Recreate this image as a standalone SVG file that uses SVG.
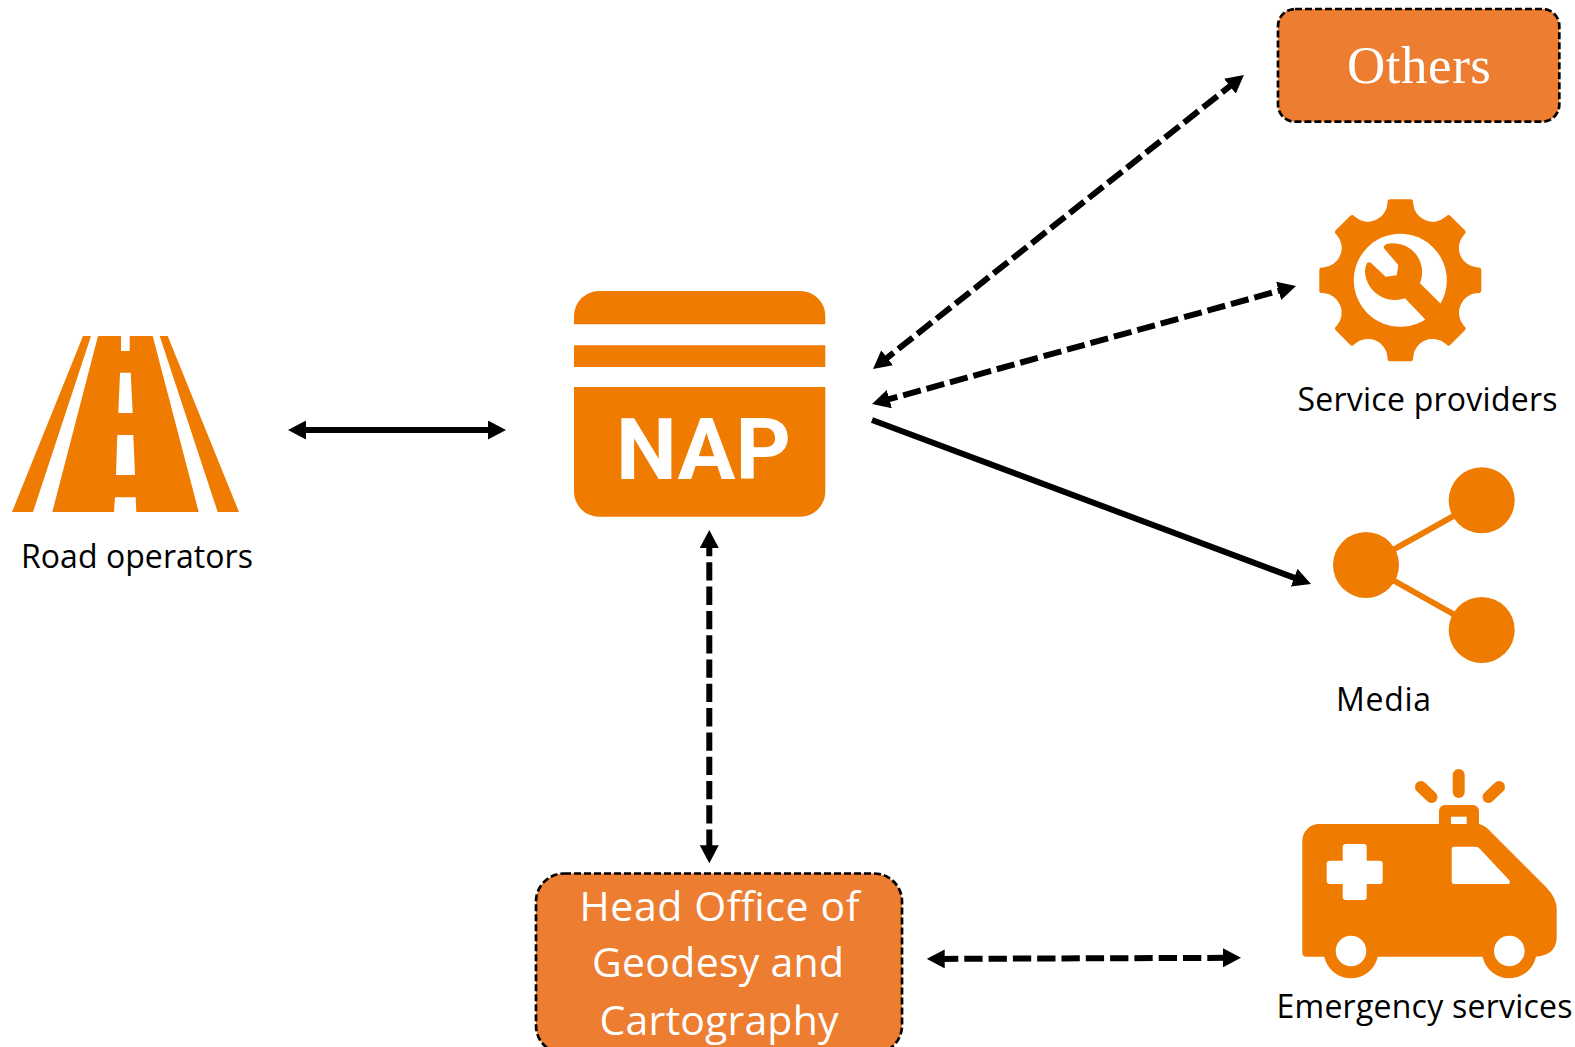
<svg xmlns="http://www.w3.org/2000/svg" xmlns:xlink="http://www.w3.org/1999/xlink" width="1575" height="1047" viewBox="0 0 1575 1047">
<style>
.ic{fill:#EF7B00}
.hole{fill:#fff}
.box{fill:#ED7D31;stroke:#000;stroke-width:2.7;stroke-dasharray:7 3}
.lbl{font-family:"Open Sans","Noto Sans",sans-serif;font-size:32px;fill:#000}
.wt{font-family:"Open Sans","Noto Sans",sans-serif;font-size:41px;fill:#fff}
.cn{fill:none;stroke:#000;stroke-width:6}
.dash{stroke-dasharray:18.3 6;stroke-dashoffset:6}
</style>
<defs>
<marker id="ah" viewBox="0 0 18 19" refX="4" refY="9.5" markerWidth="18" markerHeight="19" markerUnits="userSpaceOnUse" orient="auto-start-reverse"><path d="M0 0L18 9.5L0 19Z" fill="#000"/></marker>
<path id="tooth" class="ic" d="M-24.900-60A20 20 0 0 0-12.800-77L-12.800-78.500Q-12.800-81-10-81H10Q12.800-81 12.800-78.500L12.800-77A20 20 0 0 0 24.900-60L0 0Z"/>
</defs>
<rect width="1575" height="1047" fill="#fff"/>
<g id="road-operators">
<path class="ic" d="M12 512L83 336H91L33 512ZM52.3 512L98 336H121V351H129.7V336H152.7L198.7 512H136.3L135.7 497.3H115L114 512ZM120 372.7L118.3 413H132.7L130.7 372.7ZM117.3 435L116 475H135L133.3 435ZM159.7 336H167.7L239 512H217.7Z" fill-rule="evenodd"/>
<text class="lbl" x="21" y="568" textLength="232">Road operators</text>
</g>
<g id="nap">
<path class="ic" d="M574 324.3V316A25 25 0 0 1 599 291H800A25 25 0 0 1 825.3 316V324.3ZM574 345.3H825.3V367H574ZM574 387H825.3V491.7A25 25 0 0 1 800 516.7H599A25 25 0 0 1 574 491.7Z"/>
<text x="616" y="479" font-family="Roboto,sans-serif" font-weight="700" font-size="86" fill="#fff" textLength="175" lengthAdjust="spacingAndGlyphs">NAP</text>
</g>
<g id="others">
<rect class="box" x="1278" y="9" width="281.300" height="112.700" rx="17"/>
<text x="1347" y="83" font-family="Liberation Serif,serif" font-size="53" fill="#fff" textLength="144">Others</text>
</g>
<g id="service-providers">
<g transform="translate(1400.300 280.300)">
<circle class="ic" r="65"/>
<use xlink:href="#tooth"/>
<use xlink:href="#tooth" transform="rotate(45)"/>
<use xlink:href="#tooth" transform="rotate(90)"/>
<use xlink:href="#tooth" transform="rotate(135)"/>
<use xlink:href="#tooth" transform="rotate(180)"/>
<use xlink:href="#tooth" transform="rotate(225)"/>
<use xlink:href="#tooth" transform="rotate(270)"/>
<use xlink:href="#tooth" transform="rotate(315)"/>
<circle class="hole" r="46.500"/>
</g>
<path class="ic" d="M1384 248.300Q1383 245.500 1386.700 244A29 29 0 0 1 1420 283.300L1441 304L1446.700 310L1430 325L1425 319.300L1405 298.300A30 30 0 0 1 1365 271.700Q1364.800 266 1367.300 262.700Q1369 261.500 1371 263L1385.700 276.700L1396.700 275.300L1398.300 265Z"/>
<text class="lbl" x="1297.500" y="410.500" textLength="260">Service providers</text>
</g>
<g id="media">
<path d="M1366 565L1481.700 500.300M1366 565L1481.700 630" stroke="#EF7B00" stroke-width="6" fill="none"/>
<circle class="ic" cx="1481.700" cy="500.300" r="33"/>
<circle class="ic" cx="1366" cy="565" r="33"/>
<circle class="ic" cx="1481.700" cy="630" r="33"/>
<text class="lbl" x="1336" y="711" textLength="95">Media</text>
</g>
<g id="emergency-services">
<path class="ic" d="M1302.300 841A17 17 0 0 1 1319.300 824H1439V811A6 6 0 0 1 1445 805H1473A6 6 0 0 1 1479 811V824Q1485 825.500 1490 831L1546 887Q1556.700 898 1556.700 909V936.700Q1556.700 955 1536 956.700A27.300 27.300 0 0 1 1482.600 956.700H1377.700A27.300 27.300 0 0 1 1324.300 956.700H1306Q1302.300 956.700 1302.300 952Z"/>
<rect class="hole" x="1451" y="816.700" width="15.700" height="7.300"/>
<circle class="hole" cx="1351" cy="951" r="15.300"/>
<circle class="hole" cx="1509.300" cy="951" r="15.300"/>
<path class="hole" d="M1346 844H1363.500Q1366.700 844 1366.700 847V860.700H1379.700Q1382.700 860.700 1382.700 864V881Q1382.700 884 1379.700 884H1366.700V897Q1366.700 900 1363.500 900H1346Q1342.700 900 1342.700 897V884H1330Q1326.700 884 1326.700 881V864Q1326.700 860.700 1330 860.700H1342.700V847Q1342.700 844 1346 844Z"/>
<path class="hole" d="M1454 846.700H1476Q1478 846.700 1480 849L1509.500 880.500Q1510.500 884 1508 884H1454Q1451.700 884 1451.700 881.700V849Q1451.700 846.700 1454 846.700Z"/>
<path d="M1458.700 775V792M1421 787L1431.500 797M1499 787L1488.500 797" stroke="#EF7B00" stroke-width="12" stroke-linecap="round" fill="none"/>
<text class="lbl" x="1276.500" y="1018" textLength="296">Emergency services</text>
</g>
<g id="head-office">
<rect class="box" x="536" y="873.500" width="366" height="180" rx="28"/>
<text class="wt" x="579.500" y="920.500" textLength="280">Head Office of</text>
<text class="wt" x="592" y="977" textLength="252">Geodesy and</text>
<text class="wt" x="599.500" y="1035" textLength="239">Cartography</text>
</g>
<g id="connectors">
<path class="cn" d="M302 430H492" marker-start="url(#ah)" marker-end="url(#ah)"/>
<path class="cn dash" d="M884 360.300L1233 83.700" marker-start="url(#ah)" marker-end="url(#ah)"/>
<path class="cn dash" d="M885.500 400.200L1282.500 289.800" marker-start="url(#ah)" marker-end="url(#ah)"/>
<path class="cn" d="M872 420L1297.900 579.100" marker-end="url(#ah)"/>
<path class="cn dash" d="M709.300 544V849.300" marker-start="url(#ah)" marker-end="url(#ah)"/>
<path class="cn dash" style="stroke-dashoffset:.7" d="M940.700 958.900L1227 957.800" marker-start="url(#ah)" marker-end="url(#ah)"/>
</g>
</svg>
